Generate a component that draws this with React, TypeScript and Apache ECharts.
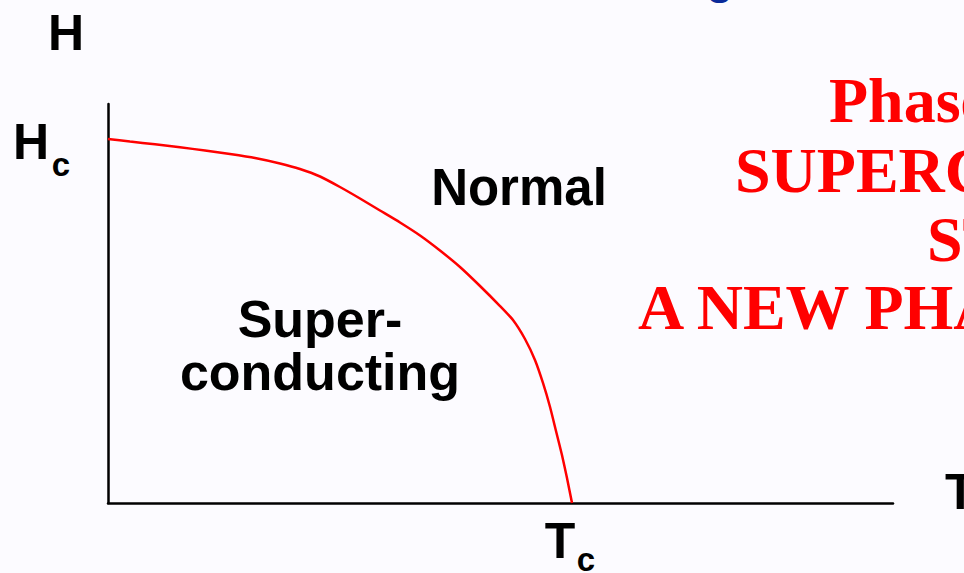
import React, { useEffect, useRef } from "react";
import * as echarts from "echarts";

// Phase boundary H_c(T): temperature (0-100 axis units) and field (0-100 axis units)
const temperature = [0, 2.8, 5.99, 9.17, 12.36, 15.54, 18.73, 21.91, 24.46, 27.01, 29.55, 32.1, 34.65, 37.2, 39.75, 42.29, 44.84, 47.39, 49.94, 51.59, 53.12, 54.39, 55.41, 56.31, 57.07, 57.83, 58.47, 59.11];
const field = [91.23, 90.6, 89.9, 89.15, 88.35, 87.47, 86.47, 85.09, 83.71, 81.83, 79.2, 76.32, 73.31, 70.3, 67.04, 63.28, 59.15, 54.39, 49.37, 45.86, 41.1, 35.84, 30.08, 24.06, 18.05, 12.03, 6.27, 0];

const axisMax = 100;
const regionLabels = ["Normal", "Super-", "conducting"];
const titleLines = ["Phase Diagram", "SUPERCONDUCTING", "STATE", "A NEW PHASE"];

const SANS = '"Liberation Sans", Arial, sans-serif';
const SERIF = '"Liberation Serif", "Times New Roman", serif';

export default function App() {
  const ref = useRef<HTMLDivElement>(null);

  useEffect(() => {
    if (!ref.current) return;
    const chart = echarts.init(ref.current, undefined, { renderer: "svg" });

    const blackText = (text: string, x: number, y: number, size: number, align: string = "center") => ({
      type: "text",
      x,
      y,
      style: {
        text,
        fill: "#000000",
        fontFamily: SANS,
        fontWeight: "bold",
        fontSize: size,
        align,
        verticalAlign: "middle",
      },
    });
    const redText = (text: string, x: number, y: number) => ({
      type: "text",
      x,
      y,
      style: {
        text,
        fill: "#ff0000",
        fontFamily: SERIF,
        fontWeight: "bold",
        fontSize: 64,
        align: "left",
        verticalAlign: "middle",
      },
    });

    chart.setOption({
      animation: false,
      backgroundColor: "#fcfbff",
      grid: { left: 108, right: 71, top: 104, bottom: 70, containLabel: false },
      xAxis: {
        type: "value",
        min: 0,
        max: axisMax,
        axisLine: { show: true, lineStyle: { color: "#000000", width: 2.5 } },
        axisTick: { show: false },
        axisLabel: { show: false },
        splitLine: { show: false },
      },
      yAxis: {
        type: "value",
        min: 0,
        max: axisMax,
        axisLine: { show: true, lineStyle: { color: "#000000", width: 2.5 } },
        axisTick: { show: false },
        axisLabel: { show: false },
        splitLine: { show: false },
      },
      series: [
        {
          type: "line",
          data: temperature.map((t, i) => [t, field[i]]),
          smooth: 0.2,
          showSymbol: false,
          lineStyle: { color: "#ff0000", width: 2.5 },
          z: 3,
        },
      ],
      graphic: [
        {
          type: "text",
          x: 720,
          y: -22,
          style: {
            text: "g",
            fill: "#0a2a9a",
            fontFamily: SANS,
            fontWeight: "bold",
            fontSize: 44,
            align: "center",
            verticalAlign: "middle",
          },
        },
        blackText("H", 66, 33, 50),
        blackText("H", 31, 142, 50),
        blackText("c", 61, 164, 33),
        blackText(regionLabels[0], 519, 187, 51),
        blackText(regionLabels[1], 320, 319, 52),
        blackText(regionLabels[2], 320, 372, 52),
        blackText("T", 560, 541, 50),
        blackText("c", 586, 559, 33),
        blackText("T", 945, 492, 50, "left"),
        redText(titleLines[0], 829, 100),
        redText(titleLines[1], 735, 170),
        redText(titleLines[2], 927, 239),
        redText(titleLines[3], 638, 307),
      ],
    });

    return () => chart.dispose();
  }, []);

  return (
    <div
      ref={ref}
      style={{ position: "fixed", left: 0, top: 0, width: 964, height: 573, overflow: "hidden" }}
    />
  );
}
